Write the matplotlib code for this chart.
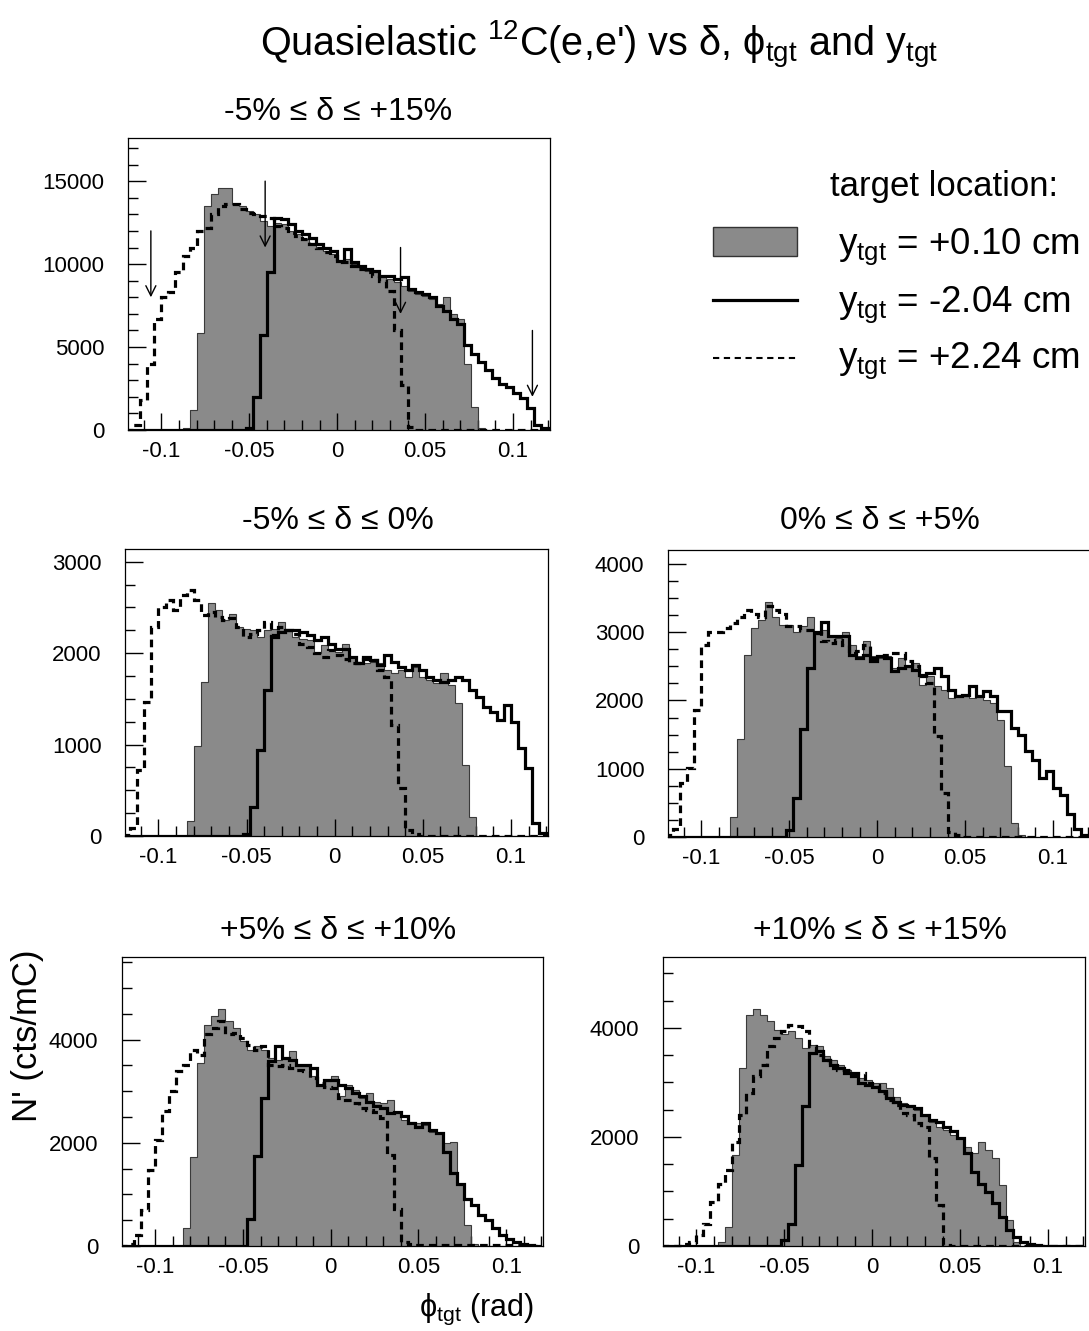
import matplotlib
matplotlib.use('Agg')
import matplotlib.pyplot as plt
import numpy as np
from matplotlib.ticker import FixedLocator, FixedFormatter, MultipleLocator
from matplotlib.patches import Rectangle
from matplotlib.lines import Line2D

plt.rcParams['font.family'] = ['Liberation Sans', 'DejaVu Sans']
plt.rcParams['mathtext.fontset'] = 'custom'
plt.rcParams['mathtext.rm'] = 'Liberation Sans'
plt.rcParams['mathtext.it'] = 'Liberation Sans:italic'
plt.rcParams['mathtext.bf'] = 'Liberation Sans:bold'

# ---------------- data ----------------
phi_min, phi_max, n_bins = -0.12, 0.12, 60
phi_ticks = [-0.1, -0.05, 0, 0.05, 0.1]
phi_ticklabels = ['-0.1', '-0.05', '0', '0.05', '0.1']

# panel: -5% <= delta <= +15%
top_shaded = [0, 0, 0, 0, 0, 0, 0, 0, 150, 1200,
              5850, 13500, 14200, 14600, 14600, 13600, 13500, 13200, 13000, 12600,
              12300, 12500, 12400, 12000, 11800, 11500, 11300, 11000, 10800, 10600,
              10200, 10300, 10000, 9800, 9600, 9500, 9200, 9100, 8900, 8700,
              8400, 8200, 8100, 7900, 7600, 8000, 7000, 6700, 4000, 1400,
              100, 0, 0, 0, 0, 0, 0, 0, 0, 0]
top_solid = [0, 0, 0, 0, 0, 0, 0, 0, 0, 0,
             0, 0, 0, 0, 0, 0, 0, 150, 2000, 5750,
             9500, 12800, 12700, 12400, 12000, 11800, 11600, 11200, 11000, 10800,
             10200, 10900, 10100, 9900, 9700, 9600, 9300, 9300, 9100, 9200,
             8500, 8300, 8200, 8000, 7500, 7200, 6700, 6400, 5100, 4600,
             4100, 3600, 3150, 2800, 2600, 2250, 1900, 1300, 300, 100]
top_dashed = [0, 300, 1800, 4000, 6700, 8000, 8300, 9500, 10500, 11000,
              12000, 12200, 13000, 13500, 13600, 13600, 13300, 13100, 13000, 12900,
              12800, 12300, 12200, 11900, 11700, 11500, 11200, 11000, 10700, 10500,
              10100, 10100, 9900, 9700, 9500, 9300, 9000, 8400, 6000, 2700,
              200, 0, 0, 0, 0, 0, 0, 0, 0, 0,
              0, 0, 0, 0, 0, 0, 0, 0, 0, 0]
arrow_x = [-0.106, -0.041, 0.036, 0.111]
arrow_from = [12000, 15000, 11000, 6000]
arrow_to = [8000, 11000, 7000, 2000]

# panel: -5% <= delta <= 0%
ml_shaded = [0, 0, 0, 0, 0, 0, 0, 0, 0, 160,
             985, 1680, 2545, 2470, 2360, 2430, 2290, 2270, 2250, 2180,
             2250, 2270, 2340, 2250, 2180, 2160, 2140, 2000, 2090, 2030,
             2015, 2105, 1960, 1905, 1890, 1905, 1890, 1815, 1780, 1815,
             1740, 1850, 1740, 1705, 1670, 1780, 1650, 1450, 775, 210,
             0, 0, 0, 0, 0, 0, 0, 0, 0, 0]
ml_solid = [0, 0, 0, 0, 0, 0, 0, 0, 0, 0,
            0, 0, 0, 0, 0, 0, 0, 20, 320, 940,
            1600, 2180, 2235, 2250, 2250, 2235, 2200, 2140, 2180, 2105,
            2050, 2050, 1960, 1890, 1960, 1925, 1870, 1980, 1905, 1850,
            1815, 1870, 1815, 1740, 1705, 1690, 1705, 1740, 1705, 1600,
            1525, 1415, 1360, 1270, 1435, 1250, 960, 740, 140, 30]
ml_dashed = [10, 85, 720, 1470, 2290, 2510, 2580, 2470, 2635, 2690,
             2580, 2415, 2450, 2400, 2360, 2380, 2290, 2180, 2215, 2250,
             2340, 2200, 2290, 2250, 2215, 2105, 2070, 2000, 1960, 2030,
             1980, 1940, 1890, 1890, 1940, 1925, 1815, 1740, 1215, 520,
             65, 20, 0, 0, 0, 0, 0, 0, 0, 0,
             0, 0, 0, 0, 0, 0, 0, 0, 0, 0]

# panel: 0% <= delta <= +5%
mr_shaded = [0, 0, 0, 0, 0, 0, 0, 0, 0, 300,
             1435, 2670, 3060, 3185, 3450, 3230, 3110, 3110, 3010, 3085,
             3230, 2980, 3040, 2940, 2915, 3010, 2820, 2650, 2870, 2650,
             2620, 2650, 2475, 2620, 2500, 2550, 2230, 2355, 2210, 2160,
             2035, 2085, 2060, 2035, 2060, 2010, 1965, 1720, 1035, 205,
             30, 0, 0, 0, 0, 0, 0, 0, 0, 0]
mr_solid = [0, 0, 0, 0, 0, 0, 0, 0, 0, 0,
            0, 0, 0, 0, 0, 0, 0, 100, 570, 1580,
            2475, 3010, 3145, 2940, 2940, 2940, 2670, 2620, 2670, 2575,
            2650, 2620, 2430, 2475, 2500, 2450, 2380, 2400, 2475, 2355,
            2160, 2060, 2085, 2210, 2060, 2135, 2060, 1840, 1840, 1600,
            1500, 1255, 1135, 865, 960, 720, 620, 330, 110, 30]
mr_dashed = [30, 110, 790, 1010, 1865, 2820, 3010, 3010, 3060, 3135,
             3230, 3330, 3260, 3230, 3380, 3330, 3260, 3085, 3085, 3040,
             3040, 2990, 2870, 2840, 2890, 2820, 2700, 2720, 2820, 2620,
             2650, 2670, 2700, 2700, 2575, 2500, 2355, 2255, 1485, 645,
             80, 30, 0, 0, 0, 0, 0, 0, 0, 0,
             0, 0, 0, 0, 0, 0, 0, 0, 0, 0]

# panel: +5% <= delta <= +10%
bl_shaded = [0, 0, 0, 0, 0, 0, 0, 0, 0, 340,
             1730, 3545, 4290, 4455, 4600, 4355, 4225, 3970, 3805, 3870,
             3805, 3645, 3610, 3645, 3775, 3480, 3480, 3285, 3125, 3190,
             3285, 2900, 3125, 3030, 2865, 2960, 2800, 2770, 2835, 2575,
             2445, 2410, 2380, 2345, 2215, 2185, 1990, 2020, 1210, 400,
             45, 0, 0, 0, 0, 0, 0, 0, 0, 0]
bl_solid = [0, 0, 0, 0, 0, 0, 0, 0, 0, 0,
            0, 0, 0, 0, 0, 0, 0, 0, 530, 1745,
            2865, 3580, 3870, 3645, 3610, 3515, 3515, 3450, 3125, 3220,
            3220, 3125, 3060, 2960, 2900, 2800, 2705, 2670, 2575, 2605,
            2510, 2380, 2315, 2380, 2250, 2185, 1830, 1405, 1210, 920,
            790, 595, 500, 340, 210, 140, 80, 45, 20, 0]
bl_dashed = [0, 45, 210, 695, 1470, 2055, 2620, 2995, 3385, 3515,
             3805, 3710, 4100, 4225, 4355, 4100, 4130, 4030, 3900, 3805,
             3870, 3515, 3480, 3515, 3450, 3415, 3385, 3255, 3155, 3090,
             3060, 2865, 2835, 2770, 2670, 2640, 2605, 2475, 1765, 725,
             80, 45, 15, 15, 15, 15, 15, 15, 15, 15,
             15, 15, 15, 15, 15, 15, 15, 0, 0, 0]

# panel: +10% <= delta <= +15%
br_shaded = [0, 0, 0, 0, 0, 0, 0, 0, 75, 350,
             1670, 3265, 4245, 4340, 4245, 4120, 3970, 3880, 3940, 3815,
             3630, 3695, 3660, 3480, 3420, 3325, 3235, 3170, 3080, 3050,
             2990, 2990, 2895, 2740, 2620, 2590, 2500, 2375, 2280, 2190,
             2130, 2035, 1975, 1820, 1700, 1915, 1760, 1610, 1115, 470,
             75, 0, 0, 0, 0, 0, 0, 0, 0, 0]
br_solid = [0, 0, 0, 0, 0, 0, 0, 0, 0, 0,
            0, 0, 0, 0, 0, 0, 0, 105, 410, 1485,
            2560, 3540, 3570, 3420, 3325, 3265, 3170, 3110, 2990, 2960,
            2925, 2835, 2710, 2650, 2590, 2560, 2530, 2405, 2315, 2280,
            2190, 2100, 1975, 1700, 1360, 1145, 995, 780, 535, 290,
            165, 75, 45, 15, 0, 0, 0, 0, 0, 0]
br_dashed = [0, 0, 0, 30, 75, 195, 410, 810, 1145, 1395,
             1915, 2405, 2805, 3110, 3325, 3660, 3815, 3940, 4060, 4030,
             3940, 3660, 3510, 3420, 3265, 3235, 3235, 3170, 3170, 2990,
             2960, 2805, 2680, 2590, 2435, 2405, 2250, 2190, 1610, 750,
             15, 0, 0, 0, 0, 0, 0, 0, 0, 0,
             0, 0, 0, 0, 0, 0, 0, 0, 0, 0]

panel_titles = ['-5% \u2264 \u03b4 \u2264 +15%', '-5% \u2264 \u03b4 \u2264 0%',
                '0% \u2264 \u03b4 \u2264 +5%', '+5% \u2264 \u03b4 \u2264 +10%',
                '+10% \u2264 \u03b4 \u2264 +15%']
legend_labels = ['y$_{\\mathrm{tgt}}$ = +0.10 cm', 'y$_{\\mathrm{tgt}}$ = -2.04 cm',
                 'y$_{\\mathrm{tgt}}$ = +2.24 cm']

# ---------------- figure ----------------
W, H = 1089, 1331
fig = plt.figure(figsize=(W / 100, H / 100), dpi=100)

def px_axes(l, r, t, b):
    return fig.add_axes([l / W, 1 - b / H, (r - l) / W, (b - t) / H])

edges = np.linspace(phi_min, phi_max, n_bins + 1)
FILL = '#8a8a8a'

panels = [
    dict(box=(128, 550, 138, 430), ymax=17600, major=5000, minor=1000,
         yt=[0, 5000, 10000, 15000], data=(top_shaded, top_solid, top_dashed)),
    dict(box=(125, 548, 549, 836), ymax=3140, major=1000, minor=250,
         yt=[0, 1000, 2000, 3000], data=(ml_shaded, ml_solid, ml_dashed)),
    dict(box=(668, 1090, 550, 837), ymax=4205, major=1000, minor=250,
         yt=[0, 1000, 2000, 3000, 4000], data=(mr_shaded, mr_solid, mr_dashed)),
    dict(box=(122, 543, 957, 1246), ymax=5600, major=2000, minor=500,
         yt=[0, 2000, 4000], data=(bl_shaded, bl_solid, bl_dashed)),
    dict(box=(663, 1085, 957, 1246), ymax=5300, major=2000, minor=500,
         yt=[0, 2000, 4000], data=(br_shaded, br_solid, br_dashed)),
]
title_pos = [(338, 112), (338, 521), (880, 521), (338, 931), (880, 931)]

axes = []
for i, p in enumerate(panels):
    ax = px_axes(*p['box'])
    shaded, solid, dashed = p['data']
    ax.stairs(shaded, edges, fill=True, color=FILL, zorder=1)
    ax.stairs(shaded, edges, fill=False, color='#3a3a3a', lw=0.8, zorder=2)
    ax.stairs(dashed, edges, color='black', lw=2.3, linestyle=(0, (2.4, 1.6)), zorder=3)
    ax.stairs(solid, edges, color='black', lw=2.3, zorder=4)
    ax.set_xlim(-0.119, 0.121)
    ax.set_ylim(0, p['ymax'])
    ax.xaxis.set_major_locator(FixedLocator(phi_ticks))
    ax.xaxis.set_major_formatter(FixedFormatter(phi_ticklabels))
    ax.xaxis.set_minor_locator(MultipleLocator(0.01))
    ax.yaxis.set_major_locator(FixedLocator(p['yt']))
    ax.yaxis.set_minor_locator(MultipleLocator(p['minor']))
    ax.tick_params(which='both', direction='in', top=False, right=False, width=1)
    ax.tick_params(which='major', axis='y', length=13, pad=17, labelsize=16)
    ax.tick_params(which='minor', axis='y', length=7)
    ax.tick_params(which='major', axis='x', length=12, pad=8, labelsize=16)
    ax.tick_params(which='minor', axis='x', length=7)
    for s in ax.spines.values():
        s.set_linewidth(0.9)
    tx, ty = title_pos[i]
    fig.text(tx / W, 1 - ty / H, panel_titles[i], ha='center', va='center', fontsize=23)
    axes.append(ax)

# arrows in the first panel
for x, y0, y1 in zip(arrow_x, arrow_from, arrow_to):
    axes[0].annotate('', xy=(x, y1), xytext=(x, y0),
                     arrowprops=dict(arrowstyle='->', lw=1.0, color='black',
                                     mutation_scale=18, shrinkA=0, shrinkB=0),
                     zorder=6)

# main title and axis labels
fig.text(599 / W, 1 - 45 / H,
         "Quasielastic $^{\\mathrm{12}}$C(e,e') vs \u03b4, \u03d5$_{\\mathrm{tgt}}$ and y$_{\\mathrm{tgt}}$",
         ha='center', va='center', fontsize=28.5)
fig.text(27 / W, 1 - 1036 / H, "N' (cts/mC)", rotation=90, ha='center', va='center', fontsize=25)
fig.text(477 / W, 1 - 1316 / H, "\u03d5$_{\\mathrm{tgt}}$ (rad)", ha='center', va='baseline', fontsize=22)

# legend
fig.text(830 / W, 1 - 196 / H, 'target location:', ha='left', va='baseline', fontsize=25)
fig.patches.append(Rectangle((713 / W, 1 - 256 / H), 84 / W, 29 / H, transform=fig.transFigure,
                             facecolor=FILL, edgecolor='#333333', lw=1.0))
fig.lines.append(Line2D([713 / W, 797 / W], [1 - 300 / H] * 2, transform=fig.transFigure,
                        color='black', lw=2.3))
fig.lines.append(Line2D([713 / W, 797 / W], [1 - 358 / H] * 2, transform=fig.transFigure,
                        color='black', lw=1.5, linestyle=(0, (3, 2.2))))
for lab, yb in zip(legend_labels, [254, 312, 368]):
    fig.text(838 / W, 1 - yb / H, lab, ha='left', va='baseline', fontsize=26.5)

fig.savefig('out.png', dpi=100)
